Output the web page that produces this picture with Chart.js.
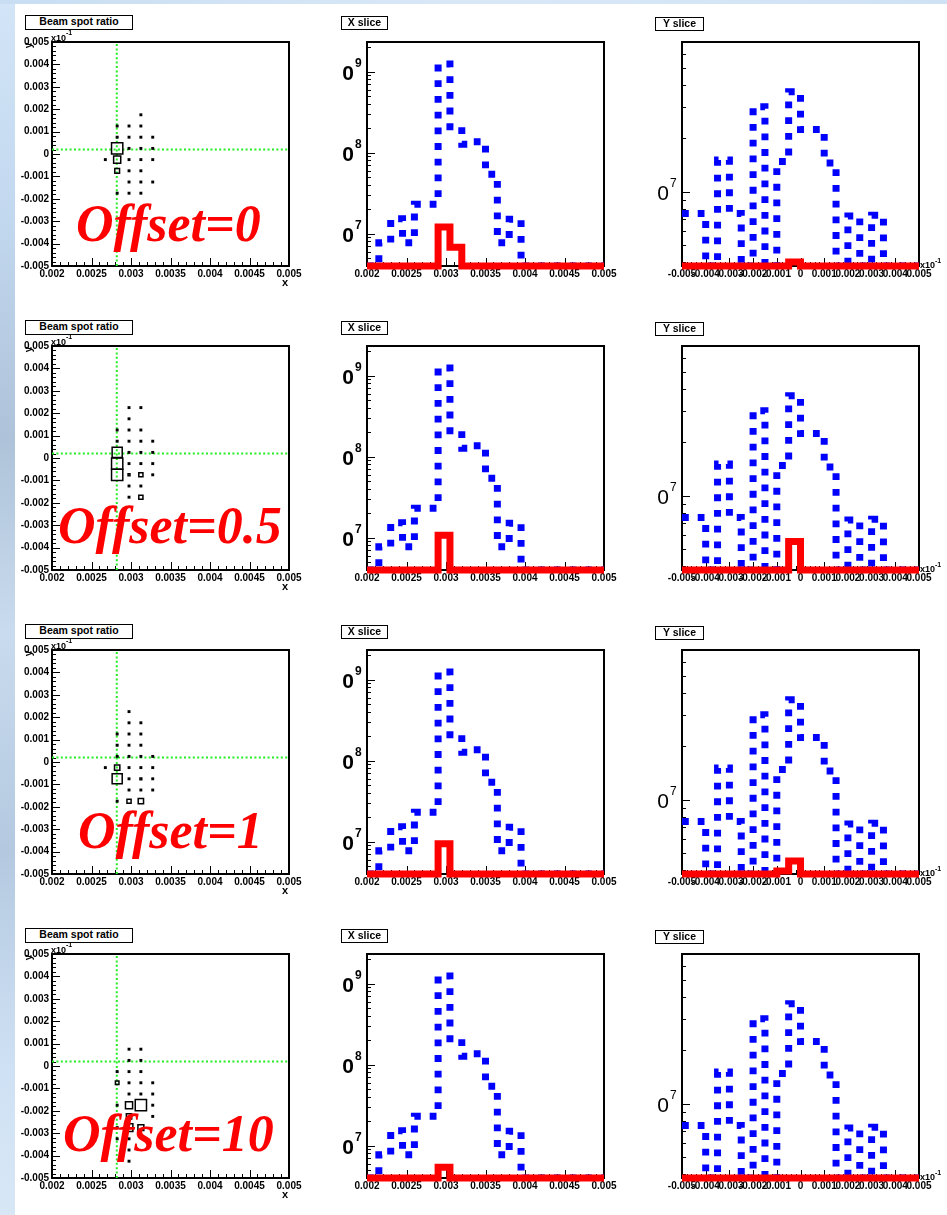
<!DOCTYPE html>
<html>
<head>
<meta charset="utf-8">
<script src="https://cdn.jsdelivr.net/npm/chart.js@4.4.1/dist/chart.umd.min.js"></script>
<style>
html,body{margin:0;padding:0;}
body{width:947px;height:1215px;position:relative;background:#fff;overflow:hidden;font-family:"Liberation Sans",Arial,sans-serif;}
#skyL{position:absolute;left:0;top:0;width:15px;height:1215px;
  background:linear-gradient(180deg,#d3e5f7 0%,#c2d8ef 18%,#aec3d9 36%,#c9dbee 52%,#b4c9e0 70%,#cfe1f4 88%,#d8e7f6 100%);}
#skyT{position:absolute;left:0;top:0;width:947px;height:4px;background:linear-gradient(90deg,#c9def3,#d9e8f7 50%,#cfe2f5);}
canvas{position:absolute;}
.title{position:absolute;box-sizing:border-box;border:1.5px solid #000;background:#fff;
  font:bold 10.5px "Liberation Sans",Arial,sans-serif;color:#000;text-align:center;line-height:11px;white-space:nowrap;overflow:hidden;}
.offset{position:absolute;font-family:"Liberation Serif","Times New Roman",serif;font-style:italic;font-weight:bold;
  font-size:52px;line-height:52px;color:#ff0000;white-space:nowrap;}
</style>
</head>
<body>
<div id="skyL"></div>
<div id="skyT"></div>
<script>
// ---------------- DATA ----------------
const offsetLabels = ['Offset=0', 'Offset=0.5', 'Offset=1', 'Offset=10'];
const panelTitles = ['Beam spot ratio', 'X slice', 'Y slice'];

// bin edges (20 bins)
const xSliceEdges = [0.002,0.00215,0.0023,0.00245,0.0026,0.00275,0.0029,0.00305,0.0032,0.00335,0.0035,
                     0.00365,0.0038,0.00395,0.0041,0.00425,0.0044,0.00455,0.0047,0.00485,0.005];
const ySliceEdges = [-0.005,-0.0045,-0.004,-0.0035,-0.003,-0.0025,-0.002,-0.0015,-0.001,-0.0005,0,
                     0.0005,0.001,0.0015,0.002,0.0025,0.003,0.0035,0.004,0.0045,0.005];

// X slice contents (0 = empty bin)
const xSliceBlue = [0,7.7e6,1.53e7,7.7e6,2.3e7,2.3e7,1.24e9,2.09e8,1.27e8,1.36e8,5.4e7,7.7e6,1.5e7,0,0,0,0,0,0,0];
const xSliceRed0  = [0,0,0,0,0,0,1.21e7,6.8e6,0,0,0,0,0,0,0,0,0,0,0,0];
const xSliceRed05 = [0,0,0,0,0,0,1.07e7,0,0,0,0,0,0,0,0,0,0,0,0,0];
const xSliceRed1  = [0,0,0,0,0,0,9.4e6,0,0,0,0,0,0,0,0,0,0,0,0,0];
const xSliceRed10 = [0,0,0,0,0,0,5.4e6,0,0,0,0,0,0,0,0,0,0,0,0,0];

// Y slice contents
const ySliceBlue = [7.53e6,7.53e6,0,1.51e7,7.53e6,0,3.02e7,0,1.48e7,3.66e7,2.24e7,2.24e7,1.45e7,0,7.27e6,0,7.36e6,0,0,0];
const ySliceRed0  = [0,0,0,0,0,0,0,0,0,4.0e6,0,0,0,0,0,0,0,0,0,0];
const ySliceRed05 = [0,0,0,0,0,0,0,0,0,5.5e6,0,0,0,0,0,0,0,0,0,0];
const ySliceRed1  = [0,0,0,0,0,0,0,0,3.95e6,4.5e6,0,0,0,0,0,0,0,0,0,0];
const ySliceRed10 = [0,0,0,0,0,0,0,0,0,0,0,0,0,0,0,0,0,0,0,0];

// Beam spot ratio 2D cells: x centre, y centre, ratio
const beamX0 = [0.002825,0.002975,0.003125,0.003125,0.002825,0.002975,0.003125,0.003275,0.002825,0.002975,0.003125,0.003275,0.002675,0.002825,0.002975,0.003125,0.003275,0.002825,0.002975,0.003125,0.002975,0.003125,0.003275,0.002825,0.002975,0.003125];
const beamY0 = [0.00125,0.00125,0.00125,0.00175,0.00075,0.00075,0.00075,0.00075,0.00025,0.00025,0.00025,0.00025,-0.00025,-0.00025,-0.00025,-0.00025,-0.00025,-0.00075,-0.00075,-0.00075,-0.00125,-0.00125,-0.00125,-0.00175,-0.00175,-0.00175];
const beamR0 = [0.12,0.12,0.12,0.12,0.12,0.12,0.12,0.12,0.95,0.12,0.12,0.12,0.12,0.6,0.12,0.12,0.12,0.4,0.12,0.12,0.12,0.12,0.12,0.12,0.12,0.12];

const beamX05 = [0.002975,0.003125,0.002975,0.002825,0.002975,0.003125,0.002825,0.002975,0.003125,0.003275,0.002825,0.002975,0.003125,0.003275,0.002825,0.002975,0.003125,0.003275,0.002825,0.002975,0.003125,0.003275,0.002975,0.003125,0.002975,0.003125];
const beamY05 = [0.00225,0.00225,0.00175,0.00125,0.00125,0.00125,0.00075,0.00075,0.00075,0.00075,0.00025,0.00025,0.00025,0.00025,-0.00025,-0.00025,-0.00025,-0.00025,-0.00075,-0.00075,-0.00075,-0.00075,-0.00125,-0.00125,-0.00175,-0.00175];
const beamR05 = [0.12,0.12,0.12,0.12,0.12,0.12,0.12,0.12,0.12,0.12,0.85,0.12,0.12,0.12,0.95,0.12,0.12,0.12,0.95,0.16,0.35,0.12,0.12,0.12,0.12,0.35];

const beamX1 = [0.002975,0.002975,0.003125,0.002825,0.002975,0.003125,0.002825,0.002975,0.003125,0.002825,0.002975,0.003125,0.003275,0.002675,0.002825,0.002975,0.003125,0.003275,0.002825,0.002975,0.003125,0.003275,0.002975,0.003125,0.003275,0.002825,0.002975,0.003125,0.002975];
const beamY1 = [0.00225,0.00175,0.00175,0.00125,0.00125,0.00125,0.00075,0.00075,0.00075,0.00025,0.00025,0.00025,0.00025,-0.00025,-0.00025,-0.00025,-0.00025,-0.00025,-0.00075,-0.00075,-0.00075,-0.00075,-0.00125,-0.00125,-0.00125,-0.00175,-0.00175,-0.00175,-0.00225];
const beamR1 = [0.12,0.12,0.12,0.12,0.12,0.12,0.12,0.12,0.12,0.12,0.12,0.12,0.12,0.12,0.45,0.12,0.12,0.12,0.85,0.12,0.15,0.12,0.12,0.12,0.12,0.12,0.35,0.45,0.12];

const beamX10 = [0.002975,0.003125,0.002975,0.003125,0.002825,0.002975,0.003125,0.002825,0.002975,0.003125,0.003275,0.002975,0.003125,0.003275,0.002825,0.002975,0.003125,0.003275,0.002975,0.003275,0.002825,0.002975,0.003125,0.002825,0.002975,0.002975,0.002975];
const beamY10 = [0.00075,0.00075,0.00025,0.00025,-0.00025,-0.00025,-0.00025,-0.00075,-0.00075,-0.00075,-0.00075,-0.00125,-0.00125,-0.00125,-0.00175,-0.00175,-0.00175,-0.00175,-0.00225,-0.00225,-0.00275,-0.00275,-0.00275,-0.00325,-0.00325,-0.00375,-0.00425];
const beamR10 = [0.12,0.12,0.12,0.12,0.12,0.12,0.12,0.3,0.12,0.12,0.12,0.12,0.12,0.12,0.12,0.6,0.95,0.12,0.45,0.12,0.12,0.65,0.5,0.12,0.12,0.12,0.12];

const beamCellWidth = 0.00015;
const beamCrossX = 0.00282;
const beamCrossY = 0.0002;

// axis ranges & tick labels
const beamXTicks = [0.002,0.0025,0.003,0.0035,0.004,0.0045,0.005];
const beamXTickLabels = ['0.002','0.0025','0.003','0.0035','0.004','0.0045','0.005'];
const beamYTicks = [0.005,0.004,0.003,0.002,0.001,0,-0.001,-0.002,-0.003,-0.004,-0.005];
const beamYTickLabels = ['0.005','0.004','0.003','0.002','0.001','0','-0.001','-0.002','-0.003','-0.004','-0.005'];
const ySliceXTicks = [-0.005,-0.004,-0.003,-0.002,-0.001,0,0.001,0.002,0.003,0.004,0.005];
const ySliceXTickLabels = ['-0.005','-0.004','-0.003','-0.002','-0.001','0','0.001','0.002','0.003','0.004','0.005'];
const xSliceYMajor = [1e7,1e8,1e9];
const xSliceYMajorExp = ['7','8','9'];
const ySliceYMajor = [1e7];
const ySliceYMajorExp = ['7'];
const xSliceYRange = [3.98e6, 2.32e9];
const ySliceYRange = [3.8e6, 7.0e7];

// ---------------- LAYOUT ----------------
const rowTops = [0, 304, 608, 912];
const titleTops = [15, 319.5, 624, 928];
const colCanvas = [{left:0,width:310,padR:21},{left:315,width:315,padR:26},{left:630,width:317,padR:28}];
const CANVAS_H = 300, PAD_TOP = 42, X_AXIS_H = 34, Y_AXIS_W = 52;
const offsetPos = [{left:76,base:242},{left:58,base:543.5},{left:78,base:848.5},{left:63,base:1152}];

Chart.defaults.font.family = '"Liberation Sans", Arial, sans-serif';
Chart.defaults.color = '#000';

function linTicks(min, max, major, minor) {
  const out = [];
  const n0 = Math.ceil(min / minor - 1e-6), n1 = Math.floor(max / minor + 1e-6);
  const ratio = Math.round(major / minor);
  for (let n = n0; n <= n1; n++) out.push({v: n * minor, major: n % ratio === 0});
  return out;
}
function logTicks(min, max) {
  const out = [];
  for (let e = Math.floor(Math.log10(min)); e <= Math.ceil(Math.log10(max)); e++) {
    for (let k = 1; k <= 9; k++) {
      const v = k * Math.pow(10, e);
      if (v >= min * 0.9999 && v <= max * 1.0001) out.push({v, major: k === 1});
    }
  }
  return out;
}

const rootPlugin = {
  id: 'rootFrame',
  beforeDatasetsDraw(chart, args, opts) {
    const {ctx, chartArea: a} = chart;
    const xs = chart.scales.x, ys = chart.scales.y;
    ctx.save();
    ctx.strokeStyle = '#000';
    ctx.lineWidth = 1;
    let xt, yt;
    if (opts.kind === 'beam') {
      xt = linTicks(xs.min, xs.max, 0.0005, 0.0001);
      yt = linTicks(ys.min, ys.max, 0.001, 0.0002);
    } else if (opts.kind === 'x') {
      xt = linTicks(xs.min, xs.max, 0.0005, 0.0001);
      yt = logTicks(ys.min, ys.max);
    } else {
      xt = linTicks(xs.min, xs.max, 0.001, 0.0002);
      yt = logTicks(ys.min, ys.max);
    }
    ctx.beginPath();
    xt.forEach(t => {
      const px = Math.round(xs.getPixelForValue(t.v)) + 0.5;
      ctx.moveTo(px, a.bottom); ctx.lineTo(px, a.bottom - (t.major ? 8 : 4));
    });
    yt.forEach(t => {
      const py = Math.round(ys.getPixelForValue(t.v)) + 0.5;
      ctx.moveTo(a.left, py); ctx.lineTo(a.left + (t.major ? 8 : 4), py);
    });
    ctx.stroke();
    ctx.lineWidth = 2;
    ctx.strokeRect(a.left, a.top, a.right - a.left, a.bottom - a.top);
    ctx.restore();
  },
  afterDraw(chart, args, opts) {
    const {ctx, chartArea: a} = chart;
    const ys = chart.scales.y;
    ctx.save();
    ctx.fillStyle = '#000';
    ctx.textBaseline = 'alphabetic';
    if (opts.kind === 'x' || opts.kind === 'y') {
      const vals = opts.kind === 'x' ? xSliceYMajor : ySliceYMajor;
      const exps = opts.kind === 'x' ? xSliceYMajorExp : ySliceYMajorExp;
      const w = opts.kind === 'x' ? 'bold ' : '';
      vals.forEach((v, i) => {
        const py = ys.getPixelForValue(v);
        ctx.font = w + '21px "Liberation Sans", Arial, sans-serif';
        ctx.textAlign = 'right';
        ctx.fillText('0', a.left - 13, py + 8.5);
        ctx.font = w + '12px "Liberation Sans", Arial, sans-serif';
        ctx.textAlign = 'left';
        ctx.fillText(exps[i], a.left - 12, py - 5);
      });
    }
    if (opts.kind === 'y') {
      ctx.font = 'bold 9px "Liberation Sans", Arial, sans-serif';
      ctx.textAlign = 'left';
      ctx.fillText('x10', a.right + 1, a.bottom + 1.5);
      const w1 = ctx.measureText('x10').width;
      ctx.font = 'bold 7px "Liberation Sans", Arial, sans-serif';
      ctx.fillText('-1', a.right + 1 + w1, a.bottom - 3);
    }
    if (opts.kind === 'beam') {
      ctx.font = 'bold 9px "Liberation Sans", Arial, sans-serif';
      ctx.textAlign = 'left';
      ctx.fillText('x10', a.left - 1, a.top - 1.5);
      const w1 = ctx.measureText('x10').width;
      ctx.font = 'bold 7px "Liberation Sans", Arial, sans-serif';
      ctx.fillText('-1', a.left - 1 + w1, a.top - 7);
      ctx.font = 'bold 10px "Liberation Sans", Arial, sans-serif';
      ctx.textAlign = 'center';
      ctx.textBaseline = 'middle';
      ctx.save();
      ctx.translate(a.left - 22.5, a.top + 3.5);
      ctx.rotate(-Math.PI / 2);
      ctx.fillText('y', 0, 0);
      ctx.restore();
      ctx.font = 'bold 11px "Liberation Sans", Arial, sans-serif';
      ctx.fillText('x', a.right - 4, a.bottom + 17);
    }
    ctx.restore();
  }
};

function hist(edges, vals, floor) {
  const pts = vals.map((v, i) => ({x: edges[i], y: v > 0 ? v : floor}));
  const last = vals[vals.length - 1];
  pts.push({x: edges[edges.length - 1], y: last > 0 ? last : floor});
  return pts;
}

function makeCanvas(col, row) {
  const c = document.createElement('canvas');
  const cc = colCanvas[col];
  c.width = cc.width; c.height = CANVAS_H;
  c.style.left = cc.left + 'px'; c.style.top = rowTops[row] + 'px';
  c.style.width = cc.width + 'px'; c.style.height = CANVAS_H + 'px';
  document.body.appendChild(c);
  return c;
}

const tickFont = {size: 10, weight: 'bold', family: '"Liberation Sans", Arial, sans-serif'};

function xAxis(min, max, tv, tl) {
  return {
    type: 'linear', min, max,
    afterBuildTicks: s => { s.ticks = tv.map(v => ({value: v})); },
    ticks: {autoSkip: false, maxRotation: 0, minRotation: 0, padding: 2, font: tickFont, color: '#000',
      callback: (v, i) => tl[i]},
    grid: {display: false, drawTicks: false}, border: {display: false},
    afterFit: s => { s.height = X_AXIS_H; }
  };
}

function baseOpts(col, kind, scales) {
  return {
    responsive: false, animation: false, events: [], devicePixelRatio: 1,
    layout: {padding: {top: PAD_TOP, right: colCanvas[col].padR, left: 0, bottom: 0}},
    plugins: {legend: {display: false}, tooltip: {enabled: false}, rootFrame: {kind}},
    scales
  };
}

function beamChart(row, bx, by, br) {
  const c = makeCanvas(0, row);
  const pts = bx.map((x, i) => ({x, y: by[i], r: br[i]}));
  new Chart(c, {
    type: 'scatter',
    data: {datasets: [
      {data: pts, pointStyle: 'rect', backgroundColor: 'rgba(0,0,0,0)', borderColor: '#000',
       pointBorderWidth: 1.5, borderWidth: 1.5, order: 0,
       pointRadius: ctx => {
         const xs = ctx.chart.scales.x;
         const cell = Math.abs(xs.getPixelForValue(xs.min + beamCellWidth) - xs.getPixelForValue(xs.min));
         return (ctx.raw ? ctx.raw.r : 0.1) * cell / (2 * Math.SQRT1_2);
       }},
      {data: [{x: beamCrossX, y: -0.005}, {x: beamCrossX, y: 0.005}], showLine: true, pointRadius: 0,
       borderColor: '#22ee22', borderWidth: 2, borderDash: [2, 2.4], order: 1},
      {data: [{x: 0.002, y: beamCrossY}, {x: 0.005, y: beamCrossY}], showLine: true, pointRadius: 0,
       borderColor: '#22ee22', borderWidth: 2, borderDash: [2, 2.4], order: 1}
    ]},
    options: baseOpts(0, 'beam', {
      x: xAxis(0.002, 0.005, beamXTicks, beamXTickLabels),
      y: {type: 'linear', min: -0.005, max: 0.005,
          afterBuildTicks: s => { s.ticks = beamYTicks.map(v => ({value: v})); },
          ticks: {autoSkip: false, padding: 3, font: tickFont, color: '#000', callback: (v, i) => beamYTickLabels[i]},
          grid: {display: false, drawTicks: false}, border: {display: false},
          afterFit: s => { s.width = Y_AXIS_W; }}
    }),
    plugins: [rootPlugin]
  });
}

function sliceChart(col, row, kind, edges, blue, red) {
  const c = makeCanvas(col, row);
  const range = kind === 'x' ? xSliceYRange : ySliceYRange;
  const xa = kind === 'x' ? xAxis(0.002, 0.005, beamXTicks, beamXTickLabels)
                          : xAxis(-0.005, 0.005, ySliceXTicks, ySliceXTickLabels);
  new Chart(c, {
    type: 'line',
    data: {datasets: [
      {data: hist(edges, red, range[0]), borderColor: '#ff0000', borderWidth: 7, stepped: true,
       pointRadius: 0, fill: false, order: 0, borderCapStyle: 'butt', borderJoinStyle: 'miter',
       clip: {left: 0, top: 0, right: 0, bottom: 6}},
      {data: hist(edges, blue, range[0]), borderColor: '#0000ff', borderWidth: 7, borderDash: [6.8, 8.9],
       stepped: true, pointRadius: 0, fill: false, order: 1, borderCapStyle: 'butt', borderJoinStyle: 'miter'}
    ]},
    options: baseOpts(col, kind, {
      x: xa,
      y: {type: 'logarithmic', min: range[0], max: range[1], ticks: {display: false},
          grid: {display: false, drawTicks: false}, border: {display: false},
          afterFit: s => { s.width = Y_AXIS_W; }}
    }),
    plugins: [rootPlugin]
  });
}

const beamRows = [[beamX0, beamY0, beamR0], [beamX05, beamY05, beamR05], [beamX1, beamY1, beamR1], [beamX10, beamY10, beamR10]];
const xRedRows = [xSliceRed0, xSliceRed05, xSliceRed1, xSliceRed10];
const yRedRows = [ySliceRed0, ySliceRed05, ySliceRed1, ySliceRed10];

for (let r = 0; r < 4; r++) {
  beamChart(r, ...beamRows[r]);
  sliceChart(1, r, 'x', xSliceEdges, xSliceBlue, xRedRows[r]);
  sliceChart(2, r, 'y', ySliceEdges, ySliceBlue, yRedRows[r]);

  const tl = [{left:25,w:108},{left:341,w:47},{left:655,w:49}];
  const th = [15, 14, 14];
  const tdy = [0, 1, 2];
  tl.forEach((t, i) => {
    const d = document.createElement('div');
    d.className = 'title';
    d.textContent = panelTitles[i];
    d.style.left = t.left + 'px';
    d.style.top = (titleTops[r] + tdy[i]) + 'px';
    d.style.width = t.w + 'px';
    d.style.height = th[i] + 'px';
    document.body.appendChild(d);
  });

  const o = document.createElement('div');
  o.className = 'offset';
  o.textContent = offsetLabels[r];
  o.style.left = offsetPos[r].left + 'px';
  o.style.top = (offsetPos[r].base - 0.8375 * 52) + 'px';
  document.body.appendChild(o);
}
</script>
</body>
</html>
